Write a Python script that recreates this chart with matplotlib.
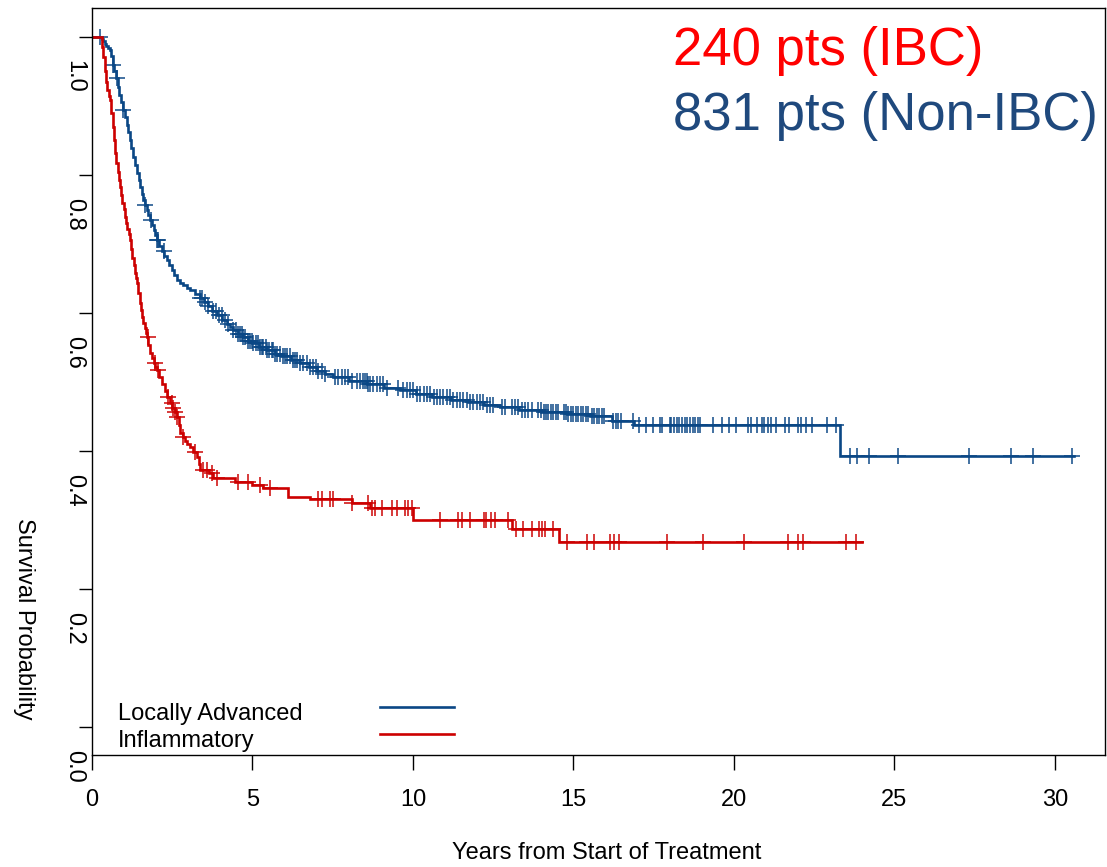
import numpy as np
import matplotlib
matplotlib.use("Agg")
import matplotlib.pyplot as plt
import matplotlib.transforms as mtransforms

plt.rcParams["font.family"] = ["Liberation Sans", "DejaVu Sans"]

# Kaplan-Meier step points (years, survival)
blue_t = [0, 0.25, 0.3, 0.35, 0.4, 0.45, 0.5, 0.56, 0.6, 0.65, 0.7, 0.75, 0.8, 0.85, 0.9,
          0.97, 1.02, 1.08, 1.13, 1.18, 1.23, 1.29, 1.34, 1.40, 1.45, 1.50, 1.55, 1.59, 1.65,
          1.70, 1.75, 1.81, 1.86, 1.92, 1.97, 2.02, 2.1, 2.17, 2.25, 2.33, 2.4, 2.48, 2.56,
          2.65, 2.75, 2.85, 2.95, 3.05, 3.2, 3.36, 3.48, 3.6, 3.75, 3.9, 4.05, 4.2, 4.3, 4.4,
          4.55, 4.7, 4.85, 5.0, 5.2, 5.45, 5.7, 5.9, 6.2, 6.48, 6.75, 7.0, 7.25, 7.5, 8.0,
          8.57, 9.1, 9.6, 10.1, 10.6, 11.2, 11.7, 12.2, 12.7, 13.3, 14.0, 14.8, 15.5, 16.2,
          16.9, 23.3, 30.6]
blue_s = [1.0, 1.0, 0.997, 0.994, 0.99, 0.987, 0.984, 0.981, 0.972, 0.96, 0.95, 0.94, 0.928,
          0.916, 0.906, 0.894, 0.884, 0.872, 0.862, 0.851, 0.839, 0.826, 0.815, 0.803, 0.793,
          0.783, 0.773, 0.764, 0.756, 0.749, 0.742, 0.735, 0.727, 0.72, 0.713, 0.706, 0.697,
          0.69, 0.683, 0.677, 0.669, 0.662, 0.655, 0.648, 0.644, 0.64, 0.636, 0.633, 0.627,
          0.621, 0.616, 0.61, 0.603, 0.597, 0.59, 0.584, 0.58, 0.575, 0.57, 0.565, 0.56,
          0.556, 0.551, 0.546, 0.541, 0.537, 0.532, 0.527, 0.521, 0.516, 0.511, 0.507, 0.502,
          0.497, 0.492, 0.488, 0.483, 0.478, 0.474, 0.471, 0.467, 0.464, 0.46, 0.456, 0.454,
          0.451, 0.443, 0.438, 0.393, 0.393]

red_t = [0, 0.28, 0.32, 0.35, 0.4, 0.44, 0.47, 0.52, 0.56, 0.6, 0.64, 0.68, 0.72, 0.76, 0.8,
         0.84, 0.87, 0.91, 0.95, 0.99, 1.03, 1.07, 1.1, 1.14, 1.18, 1.22, 1.26, 1.3, 1.34,
         1.37, 1.40, 1.44, 1.48, 1.52, 1.56, 1.6, 1.64, 1.68, 1.71, 1.76, 1.81, 1.87, 1.92,
         1.97, 2.02, 2.1, 2.18, 2.26, 2.34, 2.42, 2.5, 2.58, 2.65, 2.7, 2.74, 2.82, 2.9, 2.97,
         3.05, 3.16, 3.27, 3.32, 3.36, 3.65, 3.76, 4.45, 5.0, 5.33, 6.1, 6.8, 8.1, 8.66, 10.0,
         13.1, 14.55, 24.0]
red_s = [1.0, 1.0, 0.985, 0.971, 0.95, 0.935, 0.923, 0.915, 0.909, 0.89, 0.87, 0.85, 0.832,
         0.818, 0.805, 0.793, 0.783, 0.771, 0.76, 0.75, 0.739, 0.73, 0.722, 0.714, 0.706,
         0.693, 0.68, 0.669, 0.658, 0.65, 0.643, 0.629, 0.615, 0.604, 0.594, 0.586, 0.578,
         0.571, 0.565, 0.553, 0.542, 0.535, 0.528, 0.522, 0.517, 0.507, 0.497, 0.487, 0.478,
         0.47, 0.463, 0.456, 0.449, 0.437, 0.426, 0.42, 0.415, 0.41, 0.406, 0.398, 0.391,
         0.381, 0.372, 0.368, 0.361, 0.355, 0.351, 0.346, 0.333, 0.330, 0.325, 0.318, 0.300,
         0.287, 0.268, 0.268]

# censored times
blue_cens = [0.25, 0.65, 0.78, 0.97, 1.65, 1.84, 2.02, 2.05, 2.24, 3.36,
             3.42, 3.52, 3.62, 3.78, 3.86, 3.97, 4.04, 4.14, 4.25, 4.40, 4.49, 4.56, 4.61,
             4.66, 4.71, 4.77, 4.87, 4.92, 4.98, 5.03, 5.11, 5.18, 5.23, 5.29, 5.34, 5.42,
             5.46, 5.52, 5.60, 5.65, 5.70, 5.77, 5.86, 5.94, 6.01, 6.08, 6.17, 6.25, 6.32,
             6.40, 6.48, 6.58, 6.69, 6.79, 6.89, 6.98,
             7.05, 7.16, 7.26, 7.57, 7.67, 7.78, 7.88, 7.99, 8.09, 8.25, 8.35, 8.45, 8.50,
             8.56, 8.61, 8.66, 8.76, 8.87, 8.97, 9.08, 9.18, 9.54, 9.70, 9.80, 9.91, 10.01,
             10.12, 10.22, 10.33, 10.43, 10.53, 10.64, 10.75, 10.84, 10.95, 11.05, 11.15,
             11.26, 11.36, 11.46, 11.57, 11.67, 11.78, 11.88, 11.99, 12.09, 12.19, 12.30,
             12.40, 12.50, 12.76, 12.87, 13.07, 13.18, 13.28, 13.39, 13.49, 13.59, 13.70,
             13.90, 13.98, 14.07, 14.14, 14.22, 14.29, 14.37, 14.46, 14.53, 14.69, 14.76,
             14.84, 14.91, 14.99, 15.08, 15.15, 15.22, 15.30, 15.39, 15.46, 15.57, 15.64,
             15.72, 15.79, 15.88, 15.95, 16.24, 16.31, 16.40, 16.47, 16.86,
             17.04, 17.26, 17.48, 17.70, 17.76, 18.01, 18.04, 18.13, 18.22, 18.29, 18.38,
             18.47, 18.54, 18.63, 18.72, 18.79, 18.88, 18.94, 19.35, 19.63, 19.85, 20.06,
             20.44, 20.53, 20.72, 20.87, 20.93, 21.06, 21.15, 21.31, 21.59, 21.71, 21.99,
             22.09, 22.24, 22.43, 22.90, 23.18,
             23.61, 23.83, 24.20, 25.11, 27.32, 28.63, 29.31, 30.53]
red_cens = [1.75, 1.96, 2.05, 2.37, 2.49, 2.52, 2.59, 2.65, 2.84, 3.21, 3.46, 3.58, 3.74,
            3.89, 4.55, 4.86, 5.23, 5.55, 7.04, 7.17, 7.41, 7.51, 8.1, 8.6, 8.72, 8.82,
            9.03, 9.35, 9.5, 9.75, 9.84, 9.97, 10.84, 11.4, 11.53, 11.78, 12.21, 12.27,
            12.43, 12.55, 12.96, 13.21, 13.43, 13.71, 13.93, 14.02, 14.11, 14.36, 14.80,
            15.42, 15.64, 16.14, 16.26, 16.42, 17.91, 19.03, 20.31, 21.68, 21.99, 22.15,
            23.49, 23.80]

xticks = [0, 5, 10, 15, 20, 25, 30]
yticks = [0.0, 0.2, 0.4, 0.6, 0.8, 1.0]
legend_labels = ["Locally Advanced", "Inflammatory"]

BLUE = "#0A4785"
RED = "#CC0000"

W, H = 1107, 867
fig = plt.figure(figsize=(W / 100, H / 100), dpi=100)
ax = fig.add_axes([92 / W, 1 - 755 / H, (1105 - 92) / W, (755 - 8) / H])


def at(t_arr, s_arr, times):
    idx = np.searchsorted(t_arr, times, side="right") - 1
    return np.asarray(s_arr)[idx]


for t, s, c, col in [(blue_t, blue_s, blue_cens, BLUE), (red_t, red_s, red_cens, RED)]:
    ax.plot(t, s, drawstyle="steps-post", color=col, lw=1.9, solid_joinstyle="miter")
    ax.plot(c, at(np.array(t), s, np.array(c)), ls="none", marker="+", ms=11.5, mew=1.2,
            color=col, alpha=0.9)

ax.set_xlim(0, 31.56)
ax.set_ylim(-0.0406, 1.042)

ax.set_xticks(xticks)
ax.set_xticklabels([str(v) for v in xticks], fontsize=17)
ax.tick_params(axis="x", direction="out", length=10.8, width=1, pad=14)
ax.set_yticks(yticks)
ax.set_yticklabels([])
ax.tick_params(axis="y", direction="out", length=9.4, width=1)
for sp in ax.spines.values():
    sp.set_linewidth(1.0)

# y tick labels, rotated and shifted down like the original
off = mtransforms.ScaledTranslation(-18 / 100, -39 / 100, fig.dpi_scale_trans)
ytr = mtransforms.blended_transform_factory(ax.transAxes, ax.transData) + off
for v in yticks:
    ax.text(0, v, f"{v:.1f}", transform=ytr, rotation=-90, ha="center", va="center",
            fontsize=17, clip_on=False)

fig.text(24 / W, 1 - 619 / H, "Survival Probability", rotation=-90, ha="center",
         va="center", fontsize=17)
fig.text(607 / W, 1 - 853 / H, "Years from Start of Treatment", ha="center", va="center",
         fontsize=17)

# header counts
fig.text(673 / W, 1 - 65 / H, "240 pts (IBC)", color="#FF0000", fontsize=38,
         ha="left", va="baseline")
fig.text(673 / W, 1 - 130 / H, "831 pts (Non-IBC)", color="#1F497D", fontsize=38,
         ha="left", va="baseline")

# legend
fig.text(118 / W, 1 - 720 / H, legend_labels[0], fontsize=17, va="baseline")
fig.text(118 / W, 1 - 747 / H, legend_labels[1], fontsize=17, va="baseline")
fig.add_artist(plt.Line2D([380 / W, 454 / W], [1 - 707 / H, 1 - 707 / H], color=BLUE, lw=1.9))
fig.add_artist(plt.Line2D([380 / W, 454 / W], [1 - 734 / H, 1 - 734 / H], color=RED, lw=1.9))

fig.savefig("out.png", dpi=100)
